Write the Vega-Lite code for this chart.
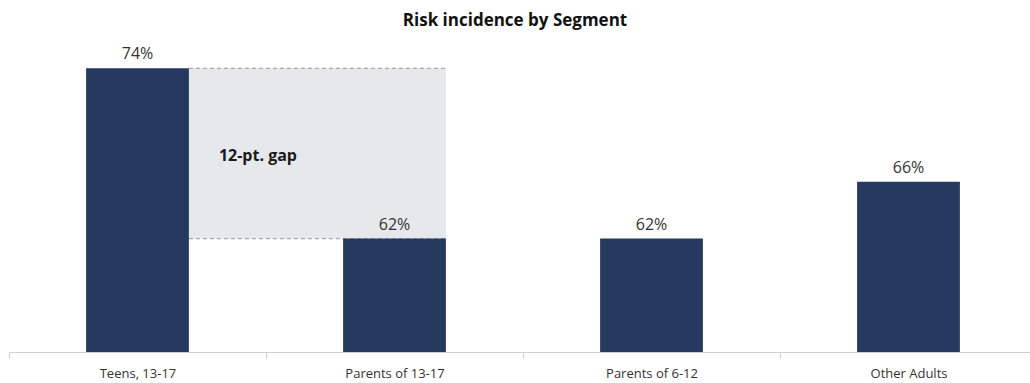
{
  "$schema": "https://vega.github.io/schema/vega-lite/v6.json",
  "autosize": "none",
  "width": 1028,
  "height": 312,
  "padding": {"left": 9, "top": 40, "right": 0, "bottom": 31},
  "background": "white",
  "config": {"view": {"stroke": null}, "font": "Open Sans"},
  "title": {"text": "Risk incidence by Segment", "fontSize": 17, "fontWeight": "bold", "font": "Open Sans", "color": "#111", "anchor": "middle", "dx": -8, "offset": 10},
  "datasets": {
    "bars": [
      {"segment": "Teens, 13-17", "value": 74, "label": "74%"},
      {"segment": "Parents of 13-17", "value": 62, "label": "62%"},
      {"segment": "Parents of 6-12", "value": 62, "label": "62%"},
      {"segment": "Other Adults", "value": 66, "label": "66%"}
    ],
    "gap": [
      {"from": "Teens, 13-17", "to": "Parents of 13-17", "hi": 74, "lo": 62, "text": "12-pt. gap"}
    ]
  },
  "layer": [
    {
      "data": {"name": "gap"},
      "mark": {"type": "rect", "color": "#e6e8ec"},
      "encoding": {
        "x": {"field": "from", "type": "nominal", "bandPosition": 1,
          "scale": {"domain": ["Teens, 13-17", "Parents of 13-17", "Parents of 6-12", "Other Adults"], "paddingInner": 0.6, "paddingOuter": 0.3},
          "axis": {
            "title": null, "labelAngle": 0, "labelFontSize": 13, "labelColor": "#333",
            "domainColor": "#d0d0d0", "tickColor": "#d0d0d0", "tickOffset": -128.5, "labelOffset": 128.5,
            "tickSize": 6, "labelPadding": 9, "labelFont": "Open Sans"
          }},
        "x2": {"field": "to", "bandPosition": 1},
        "y": {"field": "hi", "type": "quantitative", "scale": {"domain": [54, 76], "zero": false, "nice": false}, "axis": null},
        "y2": {"field": "lo"}
      }
    },
    {
      "data": {"name": "gap"},
      "mark": {"type": "rule", "color": "#a3a7ad", "strokeDash": [4, 3], "strokeWidth": 1.2},
      "encoding": {
        "x": {"field": "from", "type": "nominal", "bandPosition": 1},
        "x2": {"field": "to", "bandPosition": 1},
        "y": {"field": "hi", "type": "quantitative"}
      }
    },
    {
      "data": {"name": "gap"},
      "mark": {"type": "rule", "color": "#a3a7ad", "strokeDash": [4, 3], "strokeWidth": 1.2},
      "encoding": {
        "x": {"field": "from", "type": "nominal", "bandPosition": 1},
        "x2": {"field": "to", "bandPosition": 1},
        "y": {"field": "lo", "type": "quantitative"}
      }
    },
    {
      "data": {"name": "gap"},
      "mark": {"type": "text", "align": "left", "baseline": "middle", "fontSize": 16, "fontWeight": "bold", "color": "#1a1a1a", "dx": 30, "dy": 3},
      "encoding": {
        "x": {"field": "from", "type": "nominal", "bandPosition": 1},
        "y": {"datum": 68, "type": "quantitative"},
        "text": {"field": "text"}
      }
    },
    {
      "data": {"name": "bars"},
      "mark": {"type": "bar", "color": "#253a5e"},
      "encoding": {
        "x": {"field": "segment", "type": "nominal"},
        "y": {"field": "value", "type": "quantitative"},
        "y2": {"datum": 54}
      }
    },
    {
      "data": {"name": "bars"},
      "mark": {"type": "text", "baseline": "bottom", "dy": -6, "fontSize": 16, "color": "#333"},
      "encoding": {
        "x": {"field": "segment", "type": "nominal"},
        "y": {"field": "value", "type": "quantitative"},
        "text": {"field": "label"}
      }
    }
  ]
}
